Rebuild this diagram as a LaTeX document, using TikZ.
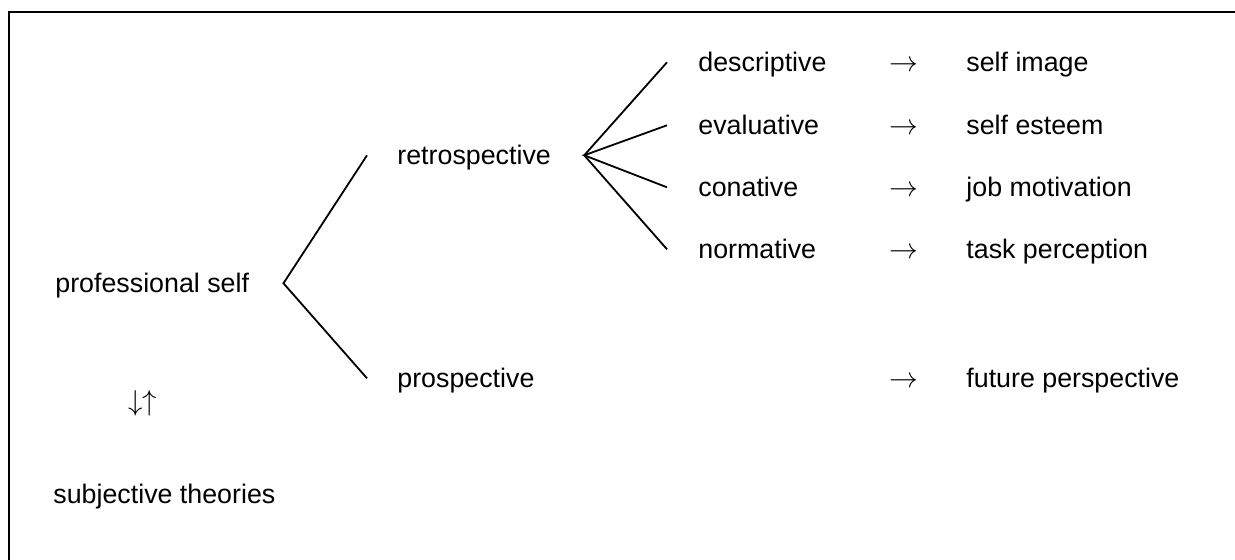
\documentclass[tikz,border=0pt]{standalone}
\usepackage{fontspec}
\setmainfont{Liberation Sans}

\begin{document}
\begin{tikzpicture}[x=0.5pt, y=-0.5pt,
  word/.style={anchor=base west, inner sep=0pt, text height=9.7pt, text depth=0pt, font=\fontsize{13.4pt}{16pt}\selectfont},
  branch/.style={line width=0.9pt}]
\useasboundingbox (0,0) rectangle (1235,560);
\draw[line width=1pt] (1235,12) -- (9,12) -- (9,560);
\node[word] (prof) at (55, 293) {professional self};
\node[word] (retro) at (397, 165) {retrospective};
\node[word] (pros) at (397, 388) {prospective};
\node[word] (desc) at (698, 72) {descriptive};
\node[word] (eval) at (698, 135) {evaluative};
\node[word] (conat) at (698, 197) {conative};
\node[word] (norm) at (698, 259) {normative};
\node[word] (a1) at (889, 72) {$\rightarrow$};
\node[word] (a2) at (889, 135) {$\rightarrow$};
\node[word] (a3) at (889, 197) {$\rightarrow$};
\node[word] (a4) at (889, 259) {$\rightarrow$};
\node[word] (a5) at (889, 388) {$\rightarrow$};
\node[word] (image) at (966, 72) {self image};
\node[word] (esteem) at (966, 135) {self esteem};
\node[word] (motiv) at (966, 197) {job motivation};
\node[word] (task) at (966, 259) {task perception};
\node[word] (future) at (966, 388) {future perspective};
\node[word] (updown) at (128, 411) {$\downarrow\uparrow$};
\node[word] (subj) at (53, 503) {subjective theories};
\coordinate (profFork) at ([xshift=17pt]prof.east);
\coordinate (retroFork) at ([xshift=16.5pt]retro.east);
\draw[branch] ([xshift=-15pt]retro.west) -- (profFork) -- ([xshift=-15pt]pros.west);
\draw[branch] ([xshift=-15.5pt]desc.west) -- (retroFork) -- ([xshift=-15.5pt]norm.west);
\draw[branch] ([xshift=-15.5pt]eval.west) -- (retroFork) -- ([xshift=-15.5pt]conat.west);
\end{tikzpicture}
\end{document}
